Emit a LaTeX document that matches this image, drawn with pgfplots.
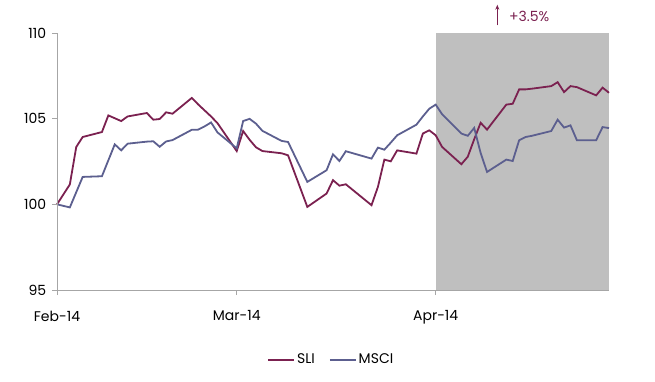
\documentclass[border=0pt]{standalone}
\usepackage{fontspec}
\setmainfont{Poppins}
\usepackage{pgfplots}
\usepackage{pgfplotstable}
\pgfplotsset{compat=1.18}
\usetikzlibrary{arrows.meta}
\definecolor{sli}{HTML}{7B2150}
\definecolor{msci}{HTML}{5C5F8F}
\definecolor{shade}{HTML}{BFBFBF}
\definecolor{axgray}{HTML}{A6A6A6}
\pgfplotstableread{
day val
0 100.0
2 101.16
3 103.35
4 103.93
7 104.22
8 105.19
10 104.86
11 105.13
14 105.33
15 104.94
16 104.98
17 105.37
18 105.29
21 106.21
22 105.83
23 105.48
24 105.13
25 104.74
28 103.11
29 104.28
30 103.77
31 103.33
32 103.11
35 102.98
36 102.86
39 99.85
42 100.63
43 101.41
44 101.09
45 101.17
49 99.95
50 101.02
51 102.61
52 102.51
53 103.15
56 102.96
57 104.13
58 104.32
59 104.03
60 103.35
63 102.34
64 102.78
65 103.8
66 104.76
67 104.36
70 105.82
71 105.87
72 106.71
73 106.71
74 106.75
77 106.9
78 107.13
79 106.55
80 106.9
81 106.84
84 106.36
85 106.81
86 106.51
}\sli
\pgfplotstableread{
day val
0 100.0
2 99.82
4 101.6
7 101.64
8 102.57
9 103.5
10 103.15
11 103.54
14 103.66
15 103.68
16 103.36
17 103.67
18 103.75
21 104.35
22 104.36
23 104.55
24 104.78
25 104.2
28 103.27
29 104.86
30 104.99
31 104.71
32 104.29
35 103.7
36 103.64
39 101.31
42 101.99
43 102.92
44 102.53
45 103.1
49 102.67
50 103.31
51 103.19
52 103.6
53 104.03
56 104.65
57 105.13
58 105.58
59 105.82
60 105.26
63 104.13
64 104.0
65 104.46
66 103.0
67 101.89
70 102.61
71 102.53
72 103.74
73 103.93
74 104.0
77 104.28
78 104.94
79 104.48
80 104.61
81 103.74
84 103.74
85 104.51
86 104.45
}\msci
\begin{document}
\fontsize{14}{16}\selectfont
\begin{tikzpicture}
\path[use as bounding box] (-57pt,-91pt) rectangle (598pt,290pt);
\begin{axis}[
  at={(0,0)}, anchor=south west,
  scale only axis, width=552pt, height=257pt,
  xmin=0, xmax=86, ymin=95, ymax=110,
  axis x line*=bottom, axis y line*=left,
  xtick={0,28,59}, xticklabels={Feb-14,Mar-14,Apr-14},
  ytick={95,100,105,110},
  tick align=outside, major tick length=5pt,
  tick style={axgray, line width=0.8pt},
  axis line style={axgray, line width=1pt},
  tick label style={font=\fontsize{14}{16}\selectfont},
  x tick label style={yshift=-11pt},
  y tick label style={xshift=-1pt},
  /pgf/number format/assume math mode=true,
  clip=false,
  axis on top,
  legend style={at={(0.497,-0.272)}, anchor=center, draw=none, fill=none,
    legend columns=2, font=\fontsize{14}{16}\selectfont,
    /tikz/every even column/.append style={column sep=12pt}},
  legend image code/.code={\draw[#1] (0pt,0pt) -- (26pt,0pt);},
]
\addplot[fill=shade, draw=none, forget plot] coordinates {(59,95) (59,110) (86,110) (86,95)} -- cycle;
\addplot[sli, line width=1.8pt] table[x=day, y=val] {\sli};
\addlegendentry{SLI}
\addplot[msci, line width=1.8pt] table[x=day, y=val] {\msci};
\addlegendentry{MSCI}
\draw[sli, line width=1pt, -{Stealth[length=5pt,width=4pt]}] (axis cs:68.6,110.45) -- (axis cs:68.6,111.65);
\node[sli, anchor=west, inner sep=0pt] at (axis cs:70.4,110.95) {+3.5\%};
\end{axis}
\end{tikzpicture}
\end{document}
